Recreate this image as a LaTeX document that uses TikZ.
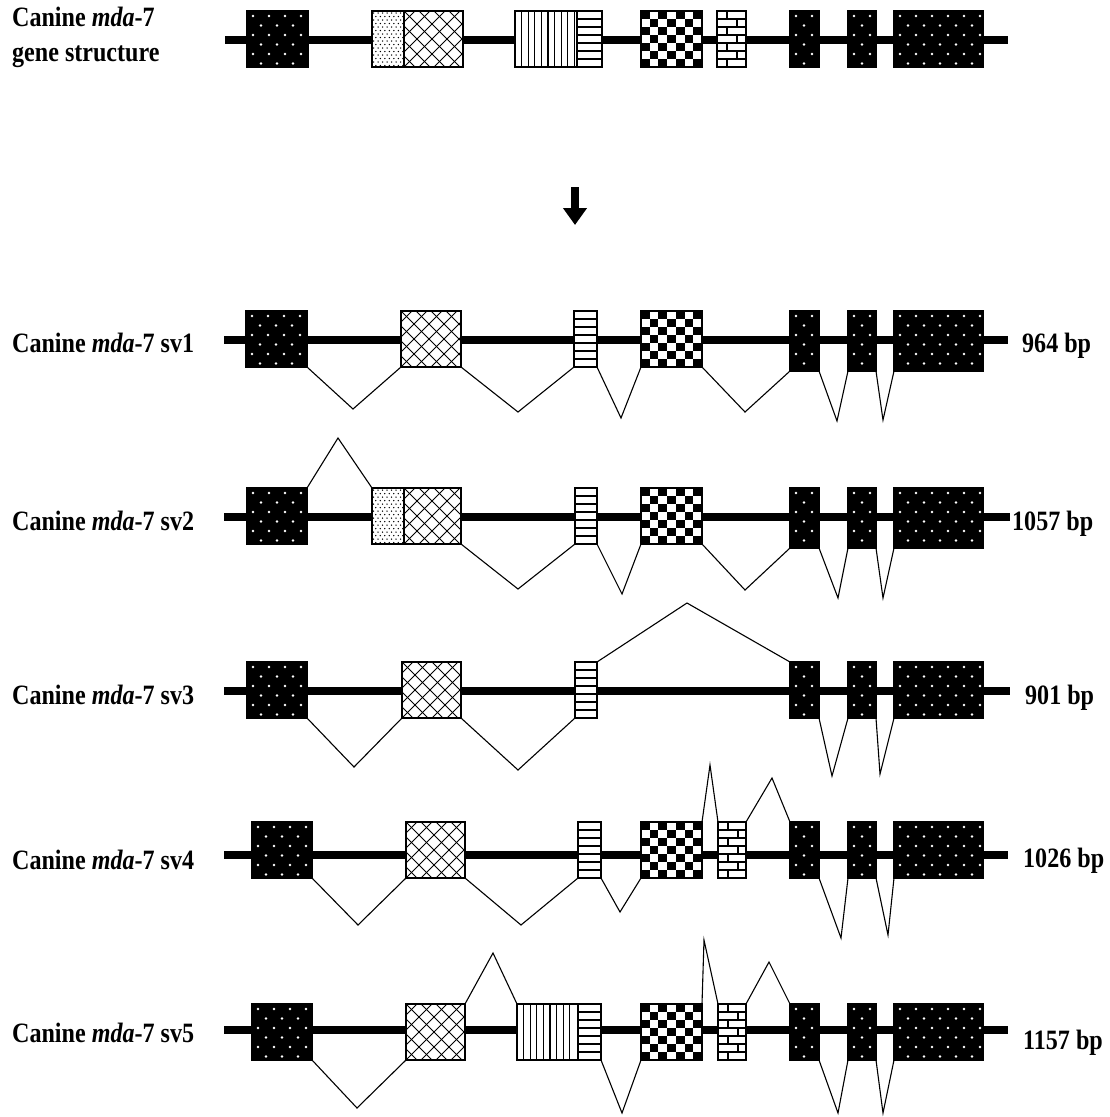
\documentclass[tikz,border=0pt]{standalone}
\usepackage{fontspec}
\setmainfont{Liberation Serif}
\usetikzlibrary{arrows.meta}
% ---------- exon fill patterns: #1 x1, #2 x2, #3 y1, #4 y2 ----------
\newcommand\patBD[4]{%
  \fill[black] (#1,#3) rectangle (#2,#4);
  \pgfmathsetmacro\pxa{#1-10}\pgfmathsetmacro\pxb{#1+6}\pgfmathsetmacro\pxc{#2+2}%
  \pgfmathsetmacro\pya{#3+5}\pgfmathsetmacro\pyb{#3+14.5}\pgfmathsetmacro\pyc{#4-2}%
  \foreach \yy [count=\rr] in {\pya,\pyb,...,\pyc}{%
    \pgfmathsetmacro\exoff{8*mod(\rr+1,2)}%
    \foreach \xx in {\pxa,\pxb,...,\pxc}{\fill[white] (\xx+\exoff,\yy) circle (1.3);}}}
\newcommand\patST[4]{%
  \fill[white] (#1,#3) rectangle (#2,#4);
  \pgfmathsetmacro\pxa{#1+1.5}\pgfmathsetmacro\pxb{#1+6}\pgfmathsetmacro\pxc{#2+3}%
  \pgfmathsetmacro\pya{#3+2}\pgfmathsetmacro\pyb{#3+5.5}\pgfmathsetmacro\pyc{#4}%
  \foreach \yy [count=\rr] in {\pya,\pyb,...,\pyc}{%
    \pgfmathsetmacro\exoff{2.25*mod(\rr+1,2)}%
    \foreach \xx in {\pxa,\pxb,...,\pxc}{\fill[black] (\xx+\exoff,\yy) circle (0.75);}}}
\newcommand\patCH[4]{%
  \fill[white] (#1,#3) rectangle (#2,#4);
  \pgfmathsetmacro\exh{#4-#3}%
  \foreach \k in {-60,-45,...,75}{%
    \draw[line width=1pt] (#1+\k,#3) -- ++(\exh,\exh);
    \draw[line width=1pt] (#1+\k,#4) -- ++(\exh,-\exh);}}
\newcommand\patVL[4]{%
  \fill[white] (#1,#3) rectangle (#2,#4);
  \pgfmathsetmacro\pxa{#1+6.6}\pgfmathsetmacro\pxb{#1+13.2}\pgfmathsetmacro\pxc{#2-2}%
  \foreach \xx in {\pxa,\pxb,...,\pxc}{\draw[line width=1.3pt] (\xx,#3) -- (\xx,#4);}}
\newcommand\patHL[4]{%
  \fill[white] (#1,#3) rectangle (#2,#4);
  \foreach \k in {1,...,6}{\draw[line width=1.4pt] (#1,{#3+\k*(#4-#3)/7}) -- (#2,{#3+\k*(#4-#3)/7});}}
\newcommand\patCK[4]{%
  \fill[white] (#1,#3) rectangle (#2,#4);
  \foreach \i in {0,...,6}{\foreach \j in {0,...,6}{%
    \pgfmathtruncatemacro\exodd{mod(\i+\j,2)}%
    \ifnum\exodd=0 \fill[black] ({#1+\i*(#2-#1)/7},{#3+\j*(#4-#3)/7}) rectangle ++({(#2-#1)/7},{(#4-#3)/7});\fi}}}
\newcommand\patBR[4]{%
  \fill[white] (#1,#3) rectangle (#2,#4);
  \foreach \k in {1,...,6}{\draw[line width=1.7pt] (#1,{#3+\k*(#4-#3)/7}) -- (#2,{#3+\k*(#4-#3)/7});}
  \foreach \k in {0,...,6}{%
    \pgfmathsetmacro\exbx{#1+10+10*mod(\k,2)}%
    \draw[line width=1.7pt] (\exbx,{#3+\k*(#4-#3)/7}) -- ++(0,{(#4-#3)/7});}}
% ---------- exon: #1 name, #2 pattern, #3 x1, #4 x2, #5 y1, #6 y2 ----------
\newcommand\exon[6]{%
  \begin{scope}\clip (#3,#5) rectangle (#4,#6);\csname pat#2\endcsname{#3}{#4}{#5}{#6}\end{scope}%
  \pgfmathsetmacro\exw{#4-#3}\pgfmathsetmacro\exhh{#6-#5}%
  \node[exonbox, minimum width=\exw pt, minimum height=\exhh pt] (#1) at ({(#3+#4)/2},{(#5+#6)/2}) {};}
\begin{document}
\begin{tikzpicture}[x=1pt,y=-1pt,
  exonbox/.style={draw=black, line width=1.1pt, inner sep=0pt, outer sep=0pt, rectangle},
  backbone/.style={line width=8pt, black},
  intron/.style={line width=1.1pt, black, line join=miter},
  lbl/.style={font=\fontsize{28}{34}\selectfont\bfseries, xscale=0.86, inner sep=0pt, anchor=base west},
]
\useasboundingbox (0,0) rectangle (1110,1117);
\fill[white] (0,0) rectangle (1110,1117);

% ---------- gene structure ----------
\node[lbl] (tl1) at (12,26) {Canine \textit{mda}-7};
\node[lbl] (tl2) at (12,61) {gene structure};
\draw[backbone] (225,40) -- (1008,40);
\exon{g1}{BD}{247}{308}{11}{67}
\exon{g2a}{ST}{372}{404}{11}{67}
\exon{g2b}{CH}{404}{463}{11}{67}
\exon{g3a}{VL}{515}{577}{11}{67}
\exon{g3b}{HL}{577}{602}{11}{67}
\exon{g4}{CK}{641}{702}{11}{67}
\exon{g5}{BR}{717}{746}{11}{67}
\exon{g6}{BD}{790}{819}{11}{67}
\exon{g7}{BD}{848}{876}{11}{67}
\exon{g8}{BD}{894}{983}{11}{67}

% ---------- arrow ----------
\coordinate (arrtop) at (575,187);
\coordinate (arrbot) at (575,225);
\draw[line width=7.5pt, -{Triangle[width=23pt,length=17pt]}] (arrtop) -- (arrbot);

% ---------- sv1 ----------
\node[lbl] (l1) at (12,352) {Canine \textit{mda}-7 sv1};
\node[lbl] (bp1) at (1022,352) {964 bp};
\draw[backbone] (224,340) -- (1008,340);
\exon{a1}{BD}{246}{307}{311}{367}
\exon{a2}{CH}{401}{461}{311}{367}
\exon{a3}{HL}{574}{597}{311}{367}
\exon{a4}{CK}{641}{702}{311}{367}
\exon{a5}{BD}{790}{819}{311}{371}
\exon{a6}{BD}{848}{876}{311}{371}
\exon{a7}{BD}{894}{983}{311}{371}
\draw[intron] (a1.south east) -- (353,409) -- (a2.south west);
\draw[intron] (a2.south east) -- (518,412) -- (a3.south west);
\draw[intron] (a3.south east) -- (621,418) -- (a4.south west);
\draw[intron] (a4.south east) -- (745,412) -- (a5.south west);
\draw[intron] (a5.south east) -- (837,421) -- (a6.south west);
\draw[intron] (a6.south east) -- (883,420) -- (a7.south west);

% ---------- sv2 ----------
\node[lbl] (l2) at (12,530) {Canine \textit{mda}-7 sv2};
\node[lbl] (bp2) at (1012,530) {1057 bp};
\draw[backbone] (224,517) -- (1010,517);
\exon{b1}{BD}{247}{307}{488}{544}
\exon{b2a}{ST}{372}{404}{488}{544}
\exon{b2b}{CH}{404}{461}{488}{544}
\exon{b3}{HL}{575}{597}{488}{544}
\exon{b4}{CK}{641}{702}{488}{544}
\exon{b5}{BD}{790}{819}{488}{548}
\exon{b6}{BD}{848}{876}{488}{548}
\exon{b7}{BD}{894}{983}{488}{548}
\draw[intron] (b1.north east) -- (338,438) -- (b2a.north west);
\draw[intron] (b2b.south east) -- (518,589) -- (b3.south west);
\draw[intron] (b3.south east) -- (622,594) -- (b4.south west);
\draw[intron] (b4.south east) -- (745,590) -- (b5.south west);
\draw[intron] (b5.south east) -- (838,598) -- (b6.south west);
\draw[intron] (b6.south east) -- (883,598) -- (b7.south west);

% ---------- sv3 ----------
\node[lbl] (l3) at (12,704) {Canine \textit{mda}-7 sv3};
\node[lbl] (bp3) at (1025,704) {901 bp};
\draw[backbone] (224,691) -- (1010,691);
\exon{c1}{BD}{247}{307}{662}{718}
\exon{c2}{CH}{402}{461}{662}{718}
\exon{c3}{HL}{575}{597}{662}{718}
\exon{c5}{BD}{790}{819}{662}{718}
\exon{c6}{BD}{848}{876}{662}{718}
\exon{c7}{BD}{894}{983}{662}{718}
\draw[intron] (c1.south east) -- (354,767) -- (c2.south west);
\draw[intron] (c2.south east) -- (518,770) -- (c3.south west);
\draw[intron] (c3.north east) -- (687,603) -- (c5.north west);
\draw[intron] (c5.south east) -- (832,776) -- (c6.south west);
\draw[intron] (c6.south east) -- (880,774) -- (c7.south west);

% ---------- sv4 ----------
\node[lbl] (l4) at (12,869) {Canine \textit{mda}-7 sv4};
\node[lbl] (bp4) at (1023,867) {1026 bp};
\draw[backbone] (224,855) -- (1008,855);
\exon{d1}{BD}{252}{312}{822}{878}
\exon{d2}{CH}{406}{465}{822}{878}
\exon{d3}{HL}{578}{601}{822}{878}
\exon{d4}{CK}{641}{702}{822}{878}
\exon{d4b}{BR}{718}{746}{822}{878}
\exon{d5}{BD}{790}{819}{822}{878}
\exon{d6}{BD}{848}{876}{822}{878}
\exon{d7}{BD}{894}{983}{822}{878}
\draw[intron] (d1.south east) -- (358,925) -- (d2.south west);
\draw[intron] (d2.south east) -- (521,925) -- (d3.south west);
\draw[intron] (d3.south east) -- (620,912) -- (d4.south west);
\draw[intron] (d4.north east) -- (710,765) -- (d4b.north west);
\draw[intron] (d4b.north east) -- (772,778) -- (d5.north west);
\draw[intron] (d5.south east) -- (841,938) -- (d6.south west);
\draw[intron] (d6.south east) -- (888,935) -- (d7.south west);

% ---------- sv5 ----------
\node[lbl] (l5) at (12,1042) {Canine \textit{mda}-7 sv5};
\node[lbl] (bp5) at (1023,1049) {1157 bp};
\draw[backbone] (224,1030) -- (1008,1030);
\exon{e1}{BD}{252}{312}{1004}{1060}
\exon{e2}{CH}{406}{465}{1004}{1060}
\exon{e3a}{VL}{517}{578}{1004}{1060}
\exon{e3b}{HL}{578}{601}{1004}{1060}
\exon{e4}{CK}{641}{702}{1004}{1060}
\exon{e4b}{BR}{718}{746}{1004}{1060}
\exon{e5}{BD}{790}{819}{1004}{1060}
\exon{e6}{BD}{848}{876}{1004}{1060}
\exon{e7}{BD}{894}{983}{1004}{1060}
\draw[intron] (e1.south east) -- (357,1108) -- (e2.south west);
\draw[intron] (e2.north east) -- (493,953) -- (e3a.north west);
\draw[intron] (e3b.south east) -- (622,1113) -- (e4.south west);
\draw[intron] (e4.north east) -- (704,940) -- (e4b.north west);
\draw[intron] (e4b.north east) -- (769,962) -- (e5.north west);
\draw[intron] (e5.south east) -- (838,1113) -- (e6.south west);
\draw[intron] (e6.south east) -- (883,1113) -- (e7.south west);
\end{tikzpicture}
\end{document}
